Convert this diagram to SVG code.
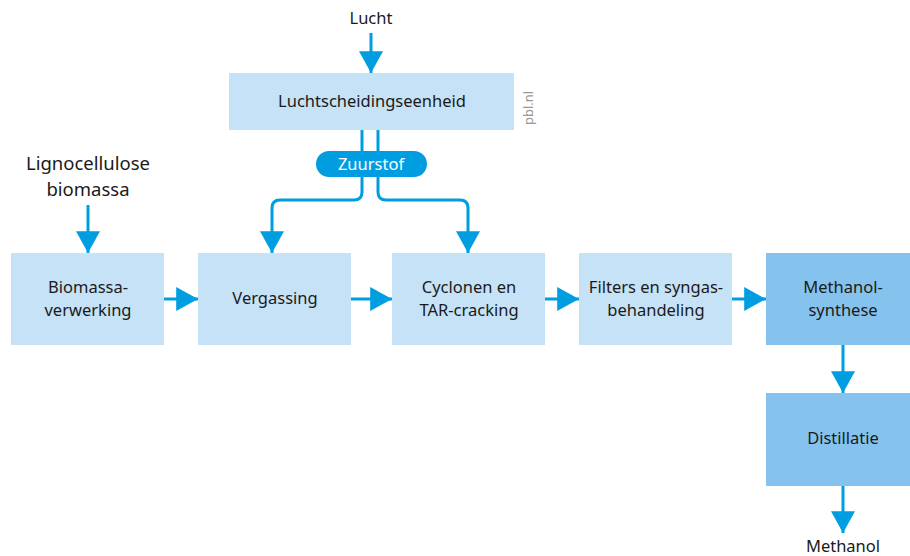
<svg xmlns="http://www.w3.org/2000/svg" width="910" height="556" viewBox="0 0 910 556">
<defs>
<style>
.lt{fill:#c6e2f7}
.dk{fill:#85c3ee}
.t{font-family:"Noto Sans","Open Sans",sans-serif;font-size:16.5px;fill:#1a1a1a;text-anchor:middle}
.big{font-size:18.5px}
.c{fill:none;stroke:#009ee0;stroke-width:3}
</style>
<marker id="ah" markerUnits="userSpaceOnUse" markerWidth="24" markerHeight="24" viewBox="0 0 20 22" refX="20" refY="11" orient="auto">
<polygon points="0,0 20,11 0,22" fill="#009ee0"/>
</marker>
</defs>
<rect width="910" height="556" fill="#fff"/>
<g id="connectors">
<path class="c" d="M371,33 V73" marker-end="url(#ah)"/>
<path class="c" d="M362,130 V192 Q362,200 354,200 H280 Q272,200 272,208 V253" marker-end="url(#ah)"/>
<path class="c" d="M378,130 V192 Q378,200 386,200 H460 Q468,200 468,208 V253" marker-end="url(#ah)"/>
<path class="c" d="M88,205 V253" marker-end="url(#ah)"/>
<path class="c" d="M164,299 H198" marker-end="url(#ah)"/>
<path class="c" d="M351,299 H392" marker-end="url(#ah)"/>
<path class="c" d="M545,299 H579" marker-end="url(#ah)"/>
<path class="c" d="M732,299 H766" marker-end="url(#ah)"/>
<path class="c" d="M843,345 V393" marker-end="url(#ah)"/>
<path class="c" d="M843,486 V533" marker-end="url(#ah)"/>
</g>
<g id="lucht"><text class="t" x="371" y="24">Lucht</text></g>
<g id="luchtscheiding">
<rect class="lt" x="229" y="73" width="285" height="57"/>
<text class="t" x="372" y="107">Luchtscheidingseenheid</text>
</g>
<g id="zuurstof">
<rect x="316" y="151" width="111" height="26" rx="13" fill="#009ee0"/>
<text class="t" x="371" y="170" style="fill:#fff">Zuurstof</text>
</g>
<g id="lignocellulose">
<text class="t big" x="88" y="170">Lignocellulose</text>
<text class="t big" x="88" y="196">biomassa</text>
</g>
<g id="biomassaverwerking">
<rect class="lt" x="11" y="253" width="153" height="92"/>
<text class="t" x="88" y="293">Biomassa-</text>
<text class="t" x="88" y="316">verwerking</text>
</g>
<g id="vergassing">
<rect class="lt" x="198" y="253" width="153" height="92"/>
<text class="t" x="275" y="304">Vergassing</text>
</g>
<g id="cyclonen">
<rect class="lt" x="392" y="253" width="153" height="92"/>
<text class="t" x="469" y="293">Cyclonen en</text>
<text class="t" x="469" y="316">TAR-cracking</text>
</g>
<g id="filters">
<rect class="lt" x="579" y="253" width="153" height="92"/>
<text class="t" x="656" y="293">Filters en syngas-</text>
<text class="t" x="656" y="316">behandeling</text>
</g>
<g id="methanolsynthese">
<rect class="dk" x="766" y="253" width="154" height="92"/>
<text class="t" x="843" y="293">Methanol-</text>
<text class="t" x="843" y="316">synthese</text>
</g>
<g id="distillatie">
<rect class="dk" x="766" y="393" width="154" height="93"/>
<text class="t" x="843" y="444">Distillatie</text>
</g>
<g id="methanol"><text class="t" x="843" y="552">Methanol</text></g>
<text x="0" y="0" transform="translate(533,108) rotate(-90)" font-family="Noto Sans, sans-serif" font-size="13" fill="#999" text-anchor="middle">pbl.nl</text>
</svg>
